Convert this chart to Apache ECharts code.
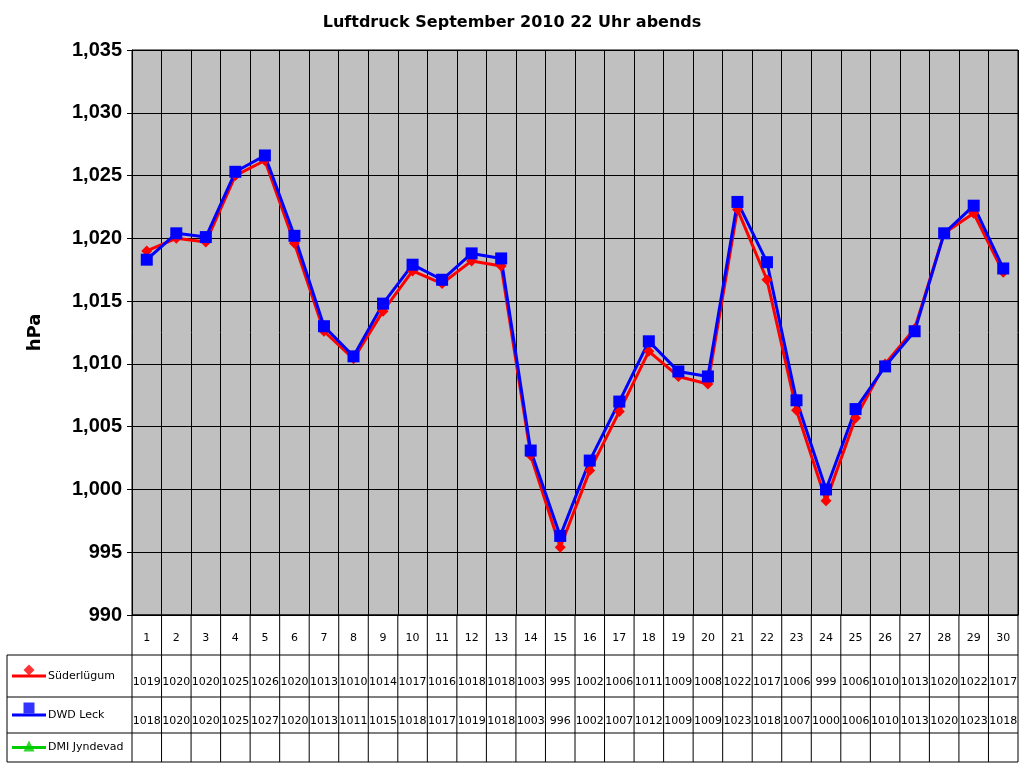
<!DOCTYPE html>
<html>
<head>
<meta charset="utf-8">
<script src="https://cdn.jsdelivr.net/npm/echarts@6/dist/echarts.min.js"></script>
<style>html,body{margin:0;padding:0;background:#fff}#chart1{width:1024px;height:768px}</style>
</head>
<body>
<div id="chart1"></div>
<script>
var days = [];
for (var d = 1; d <= 30; d++) days.push(String(d));
var suederluegum = [1019.0,1020.0,1019.7,1025.0,1026.2,1019.6,1012.6,1010.4,1014.2,1017.4,1016.4,1018.2,1017.8,1002.7,995.4,1001.5,1006.2,1011.0,1009.0,1008.4,1022.3,1016.7,1006.3,999.1,1005.7,1010.0,1012.8,1020.4,1022.0,1017.3];
var dwdLeck = [1018.3,1020.4,1020.1,1025.3,1026.6,1020.2,1013.0,1010.6,1014.8,1017.9,1016.7,1018.8,1018.4,1003.1,996.3,1002.3,1007.0,1011.8,1009.4,1009.0,1022.9,1018.1,1007.1,1000.0,1006.4,1009.8,1012.6,1020.4,1022.6,1017.6];
var dmiJyndevad = [];
var seriesNames = ['Süderlügum', 'DWD Leck', 'DMI Jyndevad'];
var seriesColors = ['#ff0000', '#0000ff', '#00cc00'];
var seriesSymbols = ['diamond', 'rect', 'triangle'];

var myChart = echarts.init(document.getElementById("chart1"));
var L = 132, R = 1018, T = 50, B = 615;
var rows = [615, 655, 697, 733, 762];
var cw = (R - L) / 30;

function makeTable() {
	var g = [];
	var line = function (x1, y1, x2, y2) {
		g.push({type: 'line', shape: {x1: x1, y1: y1, x2: x2, y2: y2}, style: {stroke: '#000', lineWidth: 1}, z: 10});
	};
	// horizontal lines
	line(L, rows[0], R, rows[0]);
	for (var r = 1; r < rows.length; r++) line(7, rows[r], R, rows[r]);
	line(7, rows[1], 7, rows[4]);
	for (var c = 0; c <= 30; c++) line(L + c * cw, rows[0], L + c * cw, rows[4]);
	var data = [suederluegum, dwdLeck, dmiJyndevad];
	for (var s = 0; s < 3; s++) {
		var y = (rows[s + 1] + rows[s + 2]) / 2 + 6;
		g.push({type: 'line', shape: {x1: 12, y1: y - 6, x2: 46, y2: y - 6}, style: {stroke: seriesColors[s], lineWidth: 3}, z: 11});
		g.push({type: 'text', x: 48, y: y - 6, style: {text: seriesNames[s], font: '11px Verdana, DejaVu Sans', fill: '#000', verticalAlign: 'middle'}, z: 11});
		for (var i = 0; i < data[s].length; i++) {
			g.push({type: 'text', x: L + (i + 0.5) * cw, y: y, style: {text: String(Math.round(data[s][i])), font: '11px Verdana, DejaVu Sans', fill: '#000', align: 'center', verticalAlign: 'middle'}, z: 11});
		}
	}
	return g;
}

var series = [];
[suederluegum, dwdLeck, dmiJyndevad].forEach(function (arr, s) {
	series.push({
		name: seriesNames[s],
		type: 'line',
		data: arr,
		symbol: seriesSymbols[s],
		symbolSize: s === 0 ? 11 : 12,
		itemStyle: {color: seriesColors[s]},
		lineStyle: {color: seriesColors[s], width: 3},
		animation: false
	});
});
// legend symbols in table
series.push({
	type: 'scatter', animation: false, xAxisIndex: 1, yAxisIndex: 1,
	data: [{value: [0, 0], symbol: 'diamond', itemStyle: {color: '#ff0000'}},
		{value: [0, 1], symbol: 'rect', itemStyle: {color: '#0000ff'}},
		{value: [0, 2], symbol: 'triangle', itemStyle: {color: '#00cc00'}}],
	symbolSize: 11, z: 20
});

myChart.setOption({
	backgroundColor: '#fff',
	title: {text: 'Luftdruck September 2010 22 Uhr abends', left: 'center', top: 10,
		textStyle: {fontSize: 16, fontWeight: 'bold', fontFamily: 'Verdana, DejaVu Sans', color: '#000'}},
	grid: [{left: L, right: 1024 - R, top: T, bottom: 768 - B, show: true, backgroundColor: '#c0c0c0', borderColor: '#000', borderWidth: 1},
		{left: 12, width: 34, top: rows[1] + 21 - 6, height: 76, show: false}],
	xAxis: [{
		type: 'category', data: days, boundaryGap: true,
		axisLine: {lineStyle: {color: '#000'}}, axisTick: {show: false},
		axisLabel: {color: '#000', fontSize: 11, margin: 18, fontFamily: 'Verdana, DejaVu Sans', interval: 0},
		splitLine: {show: true, interval: 0, lineStyle: {color: '#000', width: 1}}
	}, {type: 'value', gridIndex: 1, min: -1, max: 1, show: false}],
	yAxis: [{
		type: 'value', min: 990, max: 1035, interval: 5,
		name: 'hPa', nameLocation: 'middle', nameGap: 88, nameRotate: 90,
		nameTextStyle: {fontSize: 18, fontWeight: 'bold', color: '#000', fontFamily: 'Verdana, DejaVu Sans'},
		axisLine: {show: true, lineStyle: {color: '#000'}}, axisTick: {show: true, length: 5, lineStyle: {color: '#000'}},
		axisLabel: {color: '#000', fontSize: 20, fontWeight: 'bold', fontFamily: 'Arial, Liberation Sans', margin: 10},
		splitLine: {show: true, lineStyle: {color: '#000', width: 1}}
	}, {type: 'value', gridIndex: 1, min: 0, max: 2, inverse: true, show: false}],
	series: series,
	graphic: makeTable()
});
</script>
</body>
</html>
